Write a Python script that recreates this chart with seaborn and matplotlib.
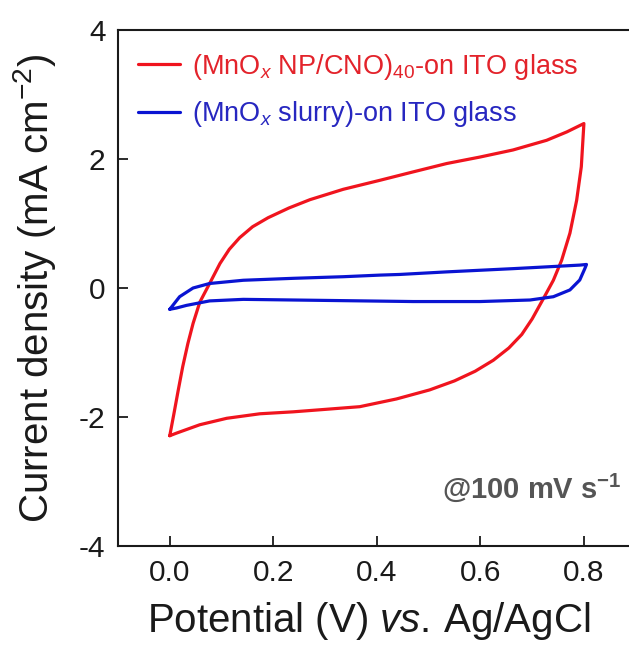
import matplotlib
matplotlib.use("Agg")
import matplotlib.pyplot as plt
import seaborn as sns
import pandas as pd

# Cyclic voltammograms (potential in V vs. Ag/AgCl, current density in mA cm^-2)
red_v = [0.000, 0.008, 0.016, 0.025, 0.035, 0.045, 0.058, 0.077, 0.097, 0.115,
         0.135, 0.160, 0.190, 0.230, 0.271, 0.335, 0.406, 0.470, 0.535, 0.599,
         0.663, 0.728, 0.767, 0.800,
         0.795, 0.786, 0.773, 0.757, 0.741, 0.720, 0.700, 0.680, 0.655, 0.625,
         0.590, 0.550, 0.502, 0.438, 0.367, 0.303, 0.238, 0.174, 0.110, 0.058,
         0.013, 0.000]
red_j = [-2.29, -1.95, -1.60, -1.22, -0.86, -0.55, -0.22, 0.07, 0.38, 0.60,
         0.78, 0.95, 1.09, 1.24, 1.37, 1.53, 1.67, 1.80, 1.93, 2.03,
         2.14, 2.29, 2.42, 2.55,
         1.88, 1.36, 0.85, 0.43, 0.12, -0.19, -0.48, -0.72, -0.93, -1.12,
         -1.29, -1.44, -1.58, -1.72, -1.84, -1.88, -1.92, -1.95, -2.02, -2.12,
         -2.25, -2.29]

blue_v = [0.000, 0.019, 0.045, 0.077, 0.142, 0.238, 0.335, 0.406, 0.444, 0.535,
          0.663, 0.792, 0.805, 0.802, 0.792, 0.773, 0.741, 0.696, 0.599, 0.470,
          0.335, 0.238, 0.142, 0.077, 0.032, 0.013, 0.000]
blue_j = [-0.33, -0.135, 0.00, 0.07, 0.12, 0.15, 0.175, 0.20, 0.21, 0.25,
          0.30, 0.355, 0.365, 0.305, 0.124, -0.03, -0.135, -0.186, -0.21, -0.21,
          -0.196, -0.186, -0.176, -0.20, -0.27, -0.31, -0.33]

series_labels = ["(MnO$_x$ NP/CNO)$_{40}$-on ITO glass",
                 "(MnO$_x$ slurry)-on ITO glass"]
x_ticks = [0.0, 0.2, 0.4, 0.6, 0.8]
y_ticks = [-4, -2, 0, 2, 4]

line_colors = ["#f0141e", "#0a14d2"]
text_colors = ["#e3232b", "#2727c0"]

sns.set_style("ticks")
plt.rcParams["font.family"] = ["Liberation Sans", "DejaVu Sans"]
plt.rcParams["mathtext.fontset"] = "custom"
plt.rcParams["mathtext.rm"] = "Liberation Sans"
plt.rcParams["mathtext.it"] = "Liberation Sans:italic"
plt.rcParams["mathtext.bf"] = "Liberation Sans:bold"

frames = []
for k, (v, j) in enumerate([(red_v, red_j), (blue_v, blue_j)]):
    frames.append(pd.DataFrame({"V": v, "J": j, "sample": series_labels[k]}))
df = pd.concat(frames, ignore_index=True)

fig = plt.figure(figsize=(6.29, 6.48), dpi=100)
ax = fig.add_axes([0.1876, 0.1574, 0.823, 0.7963])

sns.lineplot(data=df, x="V", y="J", hue="sample", units="sample",
             estimator=None, sort=False,
             palette=dict(zip(series_labels, line_colors)),
             linewidth=2.3, ax=ax)

ax.set_xlim(-0.1, 0.9)
ax.set_ylim(-4, 4)
ax.set_xticks(x_ticks)
ax.set_xticklabels([f"{t:.1f}" for t in x_ticks])
ax.set_yticks(y_ticks)
ax.set_yticklabels([str(t) for t in y_ticks])
ax.tick_params(direction="in", length=7, width=1.3, labelsize=21.5,
               pad=9, colors="#1a1a1a")
for s in ax.spines.values():
    s.set_linewidth(1.5)
    s.set_color("#1a1a1a")

ax.set_xlabel("Potential (V) $\\it{vs.}\\,$Ag/AgCl", fontsize=29, color="#1a1a1a")
ax.set_ylabel("Current density (mA cm$^{-2}$)", fontsize=29, color="#1a1a1a")
ax.xaxis.set_label_coords(0.485, -0.105)
ax.yaxis.set_label_coords(-0.115, 0.5)

leg = ax.legend(loc="upper left", bbox_to_anchor=(0.017, 0.979), frameon=False,
                fontsize=19.5, handlelength=1.55, handletextpad=0.44,
                labelspacing=0.65, borderaxespad=0.0)
for txt, c in zip(leg.get_texts(), text_colors):
    txt.set_color(c)
for h in leg.get_lines():
    h.set_linewidth(2.3)

ax.text(0.9735, 0.1124, "@100 mV s$^{\\mathbf{-1}}$", transform=ax.transAxes,
        ha="right", va="center", fontsize=21, fontweight="bold",
        color="#555555")

fig.savefig("out.png", dpi=100)
